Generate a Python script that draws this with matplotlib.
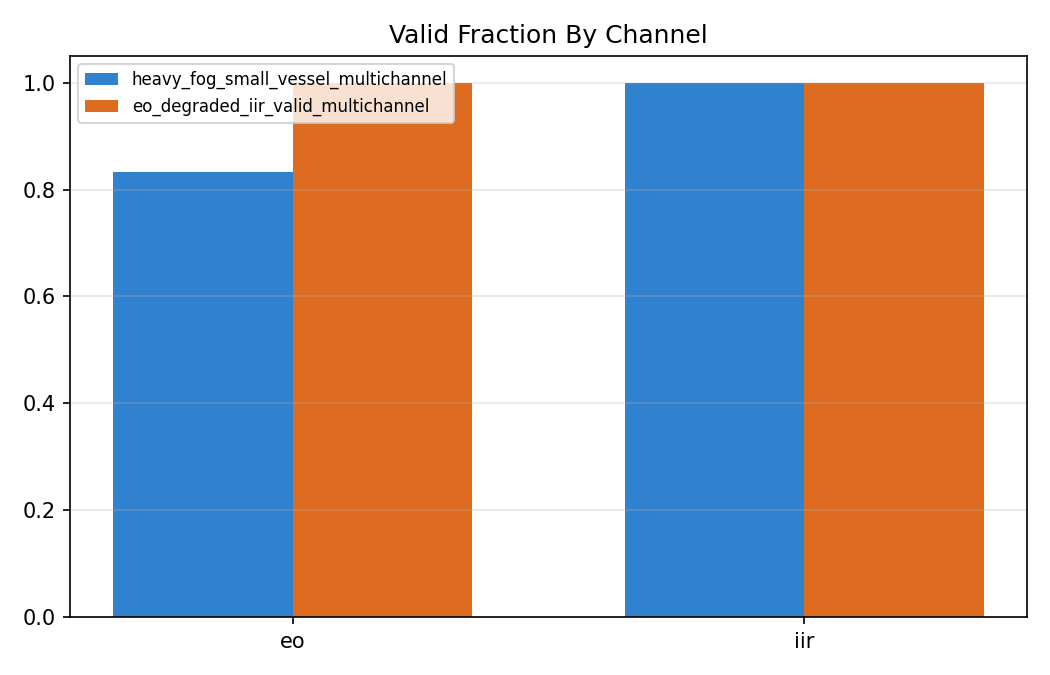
import matplotlib
matplotlib.use("Agg")
import matplotlib.pyplot as plt
import numpy as np

channels = ["eo", "iir"]
series_names = ["heavy_fog_small_vessel_multichannel", "eo_degraded_iir_valid_multichannel"]
heavy_fog = [0.8333, 1.0]
eo_degraded = [1.0, 1.0]

BLUE = "#3182ce"
ORANGE = "#dd6b20"

fig, ax = plt.subplots(figsize=(7, 4.5), dpi=150)
x = np.arange(len(channels))
w = 0.35
ax.bar(x - w / 2, heavy_fog, w, color=BLUE, label=series_names[0])
ax.bar(x + w / 2, eo_degraded, w, color=ORANGE, label=series_names[1])

ax.set_xticks(x)
ax.set_xticklabels(channels)
ax.set_title("Valid Fraction By Channel")
ax.grid(axis="y", alpha=0.3)
ax.legend(loc="upper left", fontsize=8)

fig.subplots_adjust(left=70 / 1050, right=1027 / 1050, top=1 - 56 / 675, bottom=1 - 617 / 675)
plt.savefig("out.png", dpi=150)
